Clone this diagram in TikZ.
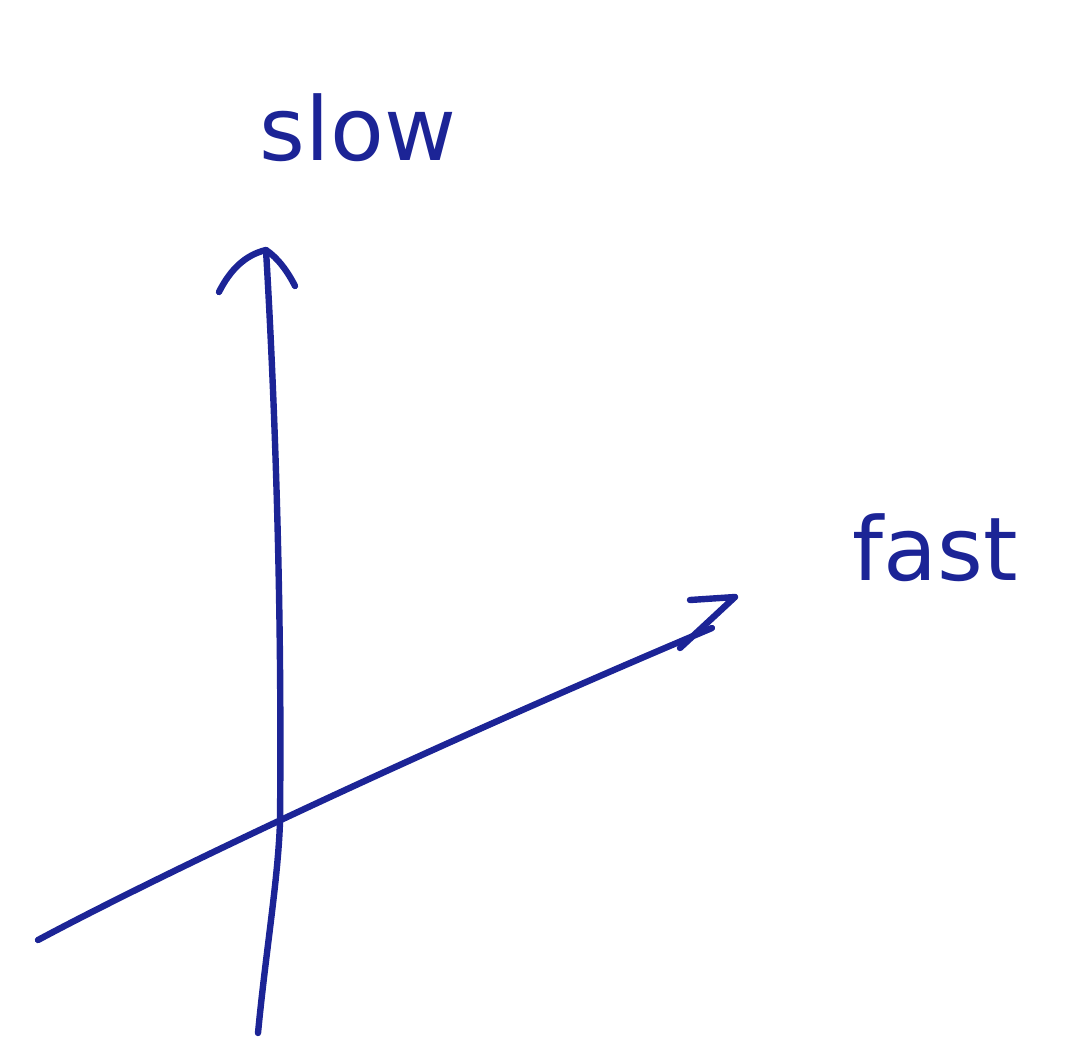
\documentclass[tikz,border=0pt]{standalone}
\usepackage{fontspec}
\setmainfont{DejaVu Sans}
\definecolor{ink}{RGB}{28,36,150}
\begin{document}
\begin{tikzpicture}[x=0.5pt,y=-0.5pt,
  stroke/.style={draw=ink,line width=3.2pt,line cap=round,line join=round},
  lbl/.style={text=ink,font=\fontsize{44}{44}\selectfont,inner sep=0pt}]
\useasboundingbox (0,0) rectangle (1067,1041);
% vertical axis
\coordinate (vb) at (258,1033);
\coordinate (vc) at (280,822);
\coordinate (vt) at (266,250);
\draw[stroke] (vb) .. controls (266,950) and (278,880) .. (vc)
  .. controls (282,620) and (276,420) .. (vt);
\coordinate (al) at (219,292);
\coordinate (ar) at (295,286);
\draw[stroke] (al) .. controls (230,270) and (245,255) .. (vt)
  .. controls (278,258) and (288,272) .. (ar);
% horizontal axis
\coordinate (hl) at (38,940);
\coordinate (hr) at (712,628);
\draw[stroke] (hl) .. controls (150,880) and (400,760) .. (hr);
\coordinate (z1) at (690,600);
\coordinate (z2) at (735,597);
\coordinate (z3) at (680,648);
\draw[stroke] (z1) -- (z2) -- (z3);
% labels
\node[lbl] (slow) at (358,128) {slow};
\node[lbl] (fast) at (935,548) {fast};
\end{tikzpicture}
\end{document}
